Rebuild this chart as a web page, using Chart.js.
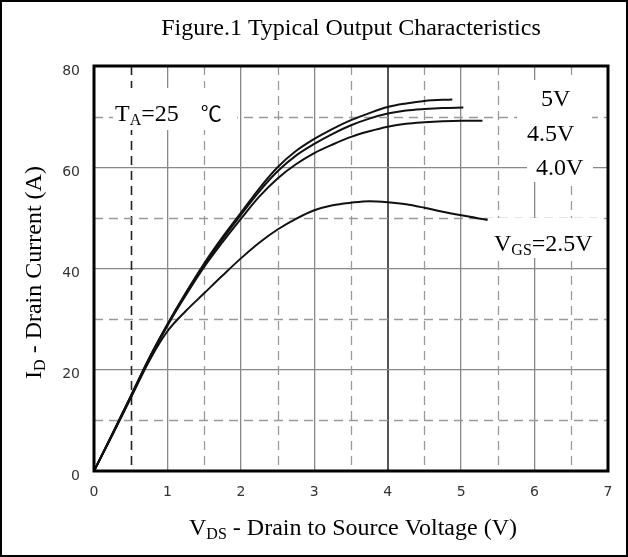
<!DOCTYPE html>
<html><head><meta charset="utf-8">
<script src="https://cdn.jsdelivr.net/npm/chart.js@4.4.1/dist/chart.umd.min.js"></script>
<style>html,body{margin:0;padding:0;background:#fff;}canvas{display:block;}</style>
</head><body>
<canvas id="c" width="628" height="557"></canvas>
<script>
// ---- data ----
const vds5V  = [0, 0.25, 0.5, 0.75, 1, 1.25, 1.5, 1.75, 2, 2.25, 2.5, 2.75, 3, 3.25, 3.5, 3.75, 4, 4.25, 4.5, 4.88];
const id5V   = [0, 7.3, 14.8, 22.3, 29, 35.2, 41, 46.2, 51, 55.8, 60, 63.2, 65.6, 67.6, 69.3, 70.7, 71.9, 72.6, 73.1, 73.4];
const vds45V = [0, 0.25, 0.5, 0.75, 1, 1.25, 1.5, 1.75, 2, 2.25, 2.5, 2.75, 3, 3.25, 3.5, 3.75, 4, 4.25, 4.5, 4.75, 5.03];
const id45V  = [0, 7.3, 14.7, 22.2, 28.9, 35, 40.7, 45.8, 50.6, 55.2, 59.2, 62.3, 64.6, 66.6, 68.3, 69.6, 70.6, 71.2, 71.5, 71.7, 71.8];
const vds40V = [0, 0.25, 0.5, 0.75, 1, 1.25, 1.5, 1.75, 2, 2.25, 2.5, 2.75, 3, 3.25, 3.5, 3.75, 4, 4.25, 4.5, 4.75, 5, 5.29];
const id40V  = [0, 7.2, 14.6, 22, 28.7, 34.7, 40.3, 45.2, 49.8, 54.2, 57.8, 60.6, 62.8, 64.5, 66.0, 67.1, 68.0, 68.6, 68.9, 69.1, 69.2, 69.2];
const vds25V = [0, 0.25, 0.5, 0.75, 1, 1.25, 1.5, 1.75, 2, 2.25, 2.5, 2.75, 3, 3.25, 3.5, 3.75, 4, 4.25, 4.5, 4.75, 5, 5.36];
const id25V  = [0, 7.1, 14.4, 21.7, 27.6, 31.6, 35.1, 38.6, 42, 45.1, 47.7, 49.8, 51.5, 52.5, 53.0, 53.3, 53.1, 52.7, 52.0, 51.2, 50.5, 49.6];
const xTickValues = [0, 1, 2, 3, 4, 5, 6, 7];
const yTickValues = [0, 20, 40, 60, 80];
const xMinorGrid = [0.5, 1.5, 2.5, 3.5, 4.5, 5.5, 6.5];
const yMinorGrid = [10, 30, 50, 70];

const SERIF = '"Liberation Serif","Times New Roman",serif';
const pts = (xs, ys) => xs.map((x, i) => ({x: x, y: ys[i]}));
const lineDs = (label, xs, ys) => ({
  label, data: pts(xs, ys), borderColor: '#111', borderWidth: 2,
  pointRadius: 0, fill: false, cubicInterpolationMode: 'monotone'
});

function drawRich(ctx, parts, x, y, align) {
  let w = 0;
  parts.forEach(p => { ctx.font = (p.size) + 'px ' + (p.family || SERIF); p.w = ctx.measureText(p.t).width; w += p.w + (p.gap || 0); });
  let cx = align === 'center' ? x - w / 2 : (align === 'right' ? x - w : x);
  ctx.textAlign = 'left'; ctx.textBaseline = 'alphabetic'; ctx.fillStyle = '#000';
  parts.forEach(p => {
    ctx.font = (p.size) + 'px ' + (p.family || SERIF);
    cx += (p.gap || 0);
    ctx.fillText(p.t, cx, y + (p.dy || 0));
    cx += p.w;
  });
}

const decor = {
  id: 'decor',
  beforeDraw(chart) {
    const c = chart.ctx;
    c.save(); c.fillStyle = '#fff'; c.fillRect(0, 0, chart.width, chart.height);
    c.strokeStyle = '#000'; c.lineWidth = 2; c.strokeRect(1, 1, chart.width - 2, chart.height - 2);
    c.restore();
  },
  beforeDatasetsDraw(chart) {
    const c = chart.ctx, a = chart.chartArea, xs = chart.scales.x, ys = chart.scales.y;
    c.save();
    c.setLineDash([9, 6]);
    xMinorGrid.forEach(v => {
      const px = Math.round(xs.getPixelForValue(v)) + 0.5;
      c.strokeStyle = v === 0.5 ? '#222' : '#9a9a9a'; c.lineWidth = v === 0.5 ? 1.6 : 1.3;
      c.beginPath(); c.moveTo(px, a.top); c.lineTo(px, a.bottom); c.stroke();
    });
    yMinorGrid.forEach(v => {
      const py = Math.round(ys.getPixelForValue(v)) + 0.5;
      c.strokeStyle = '#9a9a9a'; c.lineWidth = 1.3;
      c.beginPath(); c.moveTo(a.left, py); c.lineTo(a.right, py); c.stroke();
    });
    c.setLineDash([]);
    c.fillStyle = '#fff';
    [[113, 88, 124, 42], [517, 80, 75, 68], [527, 148, 66, 34], [488, 218, 110, 40]].forEach(b => c.fillRect(b[0], b[1], b[2], b[3]));
    c.restore();
  },
  afterDatasetsDraw(chart) {
    const c = chart.ctx, a = chart.chartArea;
    c.save(); c.strokeStyle = '#000'; c.lineWidth = 3;
    c.strokeRect(a.left, a.top, a.right - a.left, a.bottom - a.top);
    c.restore();
  },
  afterDraw(chart) {
    const c = chart.ctx, a = chart.chartArea;
    c.save();
    const cxp = (a.left + a.right) / 2;
    drawRich(c, [{t: 'Figure.1 Typical Output Characteristics', size: 24}], cxp, 35, 'center');
    drawRich(c, [{t: 'V', size: 24}, {t: 'DS', size: 16, dy: 4}, {t: ' - Drain to Source Voltage (V)', size: 24}], cxp + 2, 535, 'center');
    c.save(); c.translate(41, (a.top + a.bottom) / 2 + 4); c.rotate(-Math.PI / 2);
    drawRich(c, [{t: 'I', size: 24}, {t: 'D', size: 16, dy: 4}, {t: ' - Drain Current (A)', size: 24}], 0, 0, 'center');
    c.restore();
    drawRich(c, [{t: 'T', size: 24}, {t: 'A', size: 16, dy: 4}, {t: '=25', size: 24}, {t: '\u2103', size: 21, family: '"Noto Sans CJK SC",sans-serif', gap: 22}], 115, 121, 'left');
    drawRich(c, [{t: '5V', size: 24}], 541, 106, 'left');
    drawRich(c, [{t: '4.5V', size: 24}], 527, 141, 'left');
    drawRich(c, [{t: '4.0V', size: 24}], 536, 175, 'left');
    drawRich(c, [{t: 'V', size: 24}, {t: 'GS', size: 16, dy: 4}, {t: '=2.5V', size: 24}], 494, 251, 'left');
    c.restore();
  }
};

const gridColor = ctx => (ctx.tick && ctx.tick.value === 4 && ctx.scale.axis === 'x') ? '#555' : '#888';
const gridWidth = ctx => (ctx.tick && ctx.tick.value === 4 && ctx.scale.axis === 'x') ? 2 : 1.3;

new Chart(document.getElementById('c'), {
  type: 'line',
  data: { datasets: [
    lineDs('5V', vds5V, id5V),
    lineDs('4.5V', vds45V, id45V),
    lineDs('4.0V', vds40V, id40V),
    lineDs('2.5V', vds25V, id25V)
  ]},
  options: {
    responsive: false, animation: false, devicePixelRatio: 1,
    layout: { padding: { top: 66, right: 20, left: 0, bottom: 0 } },
    plugins: { legend: { display: false }, tooltip: { enabled: false }, title: { display: false } },
    scales: {
      x: {
        type: 'linear', min: 0, max: 7,
        afterBuildTicks: s => { s.ticks = xTickValues.map(v => ({value: v})); },
        afterFit: s => { s.height = 557 - 471; },
        ticks: { font: { family: '"DejaVu Sans",sans-serif', size: 14 }, color: '#333', padding: 13, maxRotation: 0, autoSkip: false },
        grid: { color: gridColor, lineWidth: gridWidth, drawTicks: false },
        border: { display: false }
      },
      y: {
        type: 'linear', min: 0, max: 80,
        afterBuildTicks: s => { s.ticks = yTickValues.map(v => ({value: v})); },
        afterFit: s => { s.width = 94; },
        ticks: { font: { family: '"DejaVu Sans",sans-serif', size: 14 }, color: '#333', padding: 14, labelOffset: 5, autoSkip: false },
        grid: { color: gridColor, lineWidth: gridWidth, drawTicks: false },
        border: { display: false }
      }
    }
  },
  plugins: [decor]
});
</script>
</body></html>
